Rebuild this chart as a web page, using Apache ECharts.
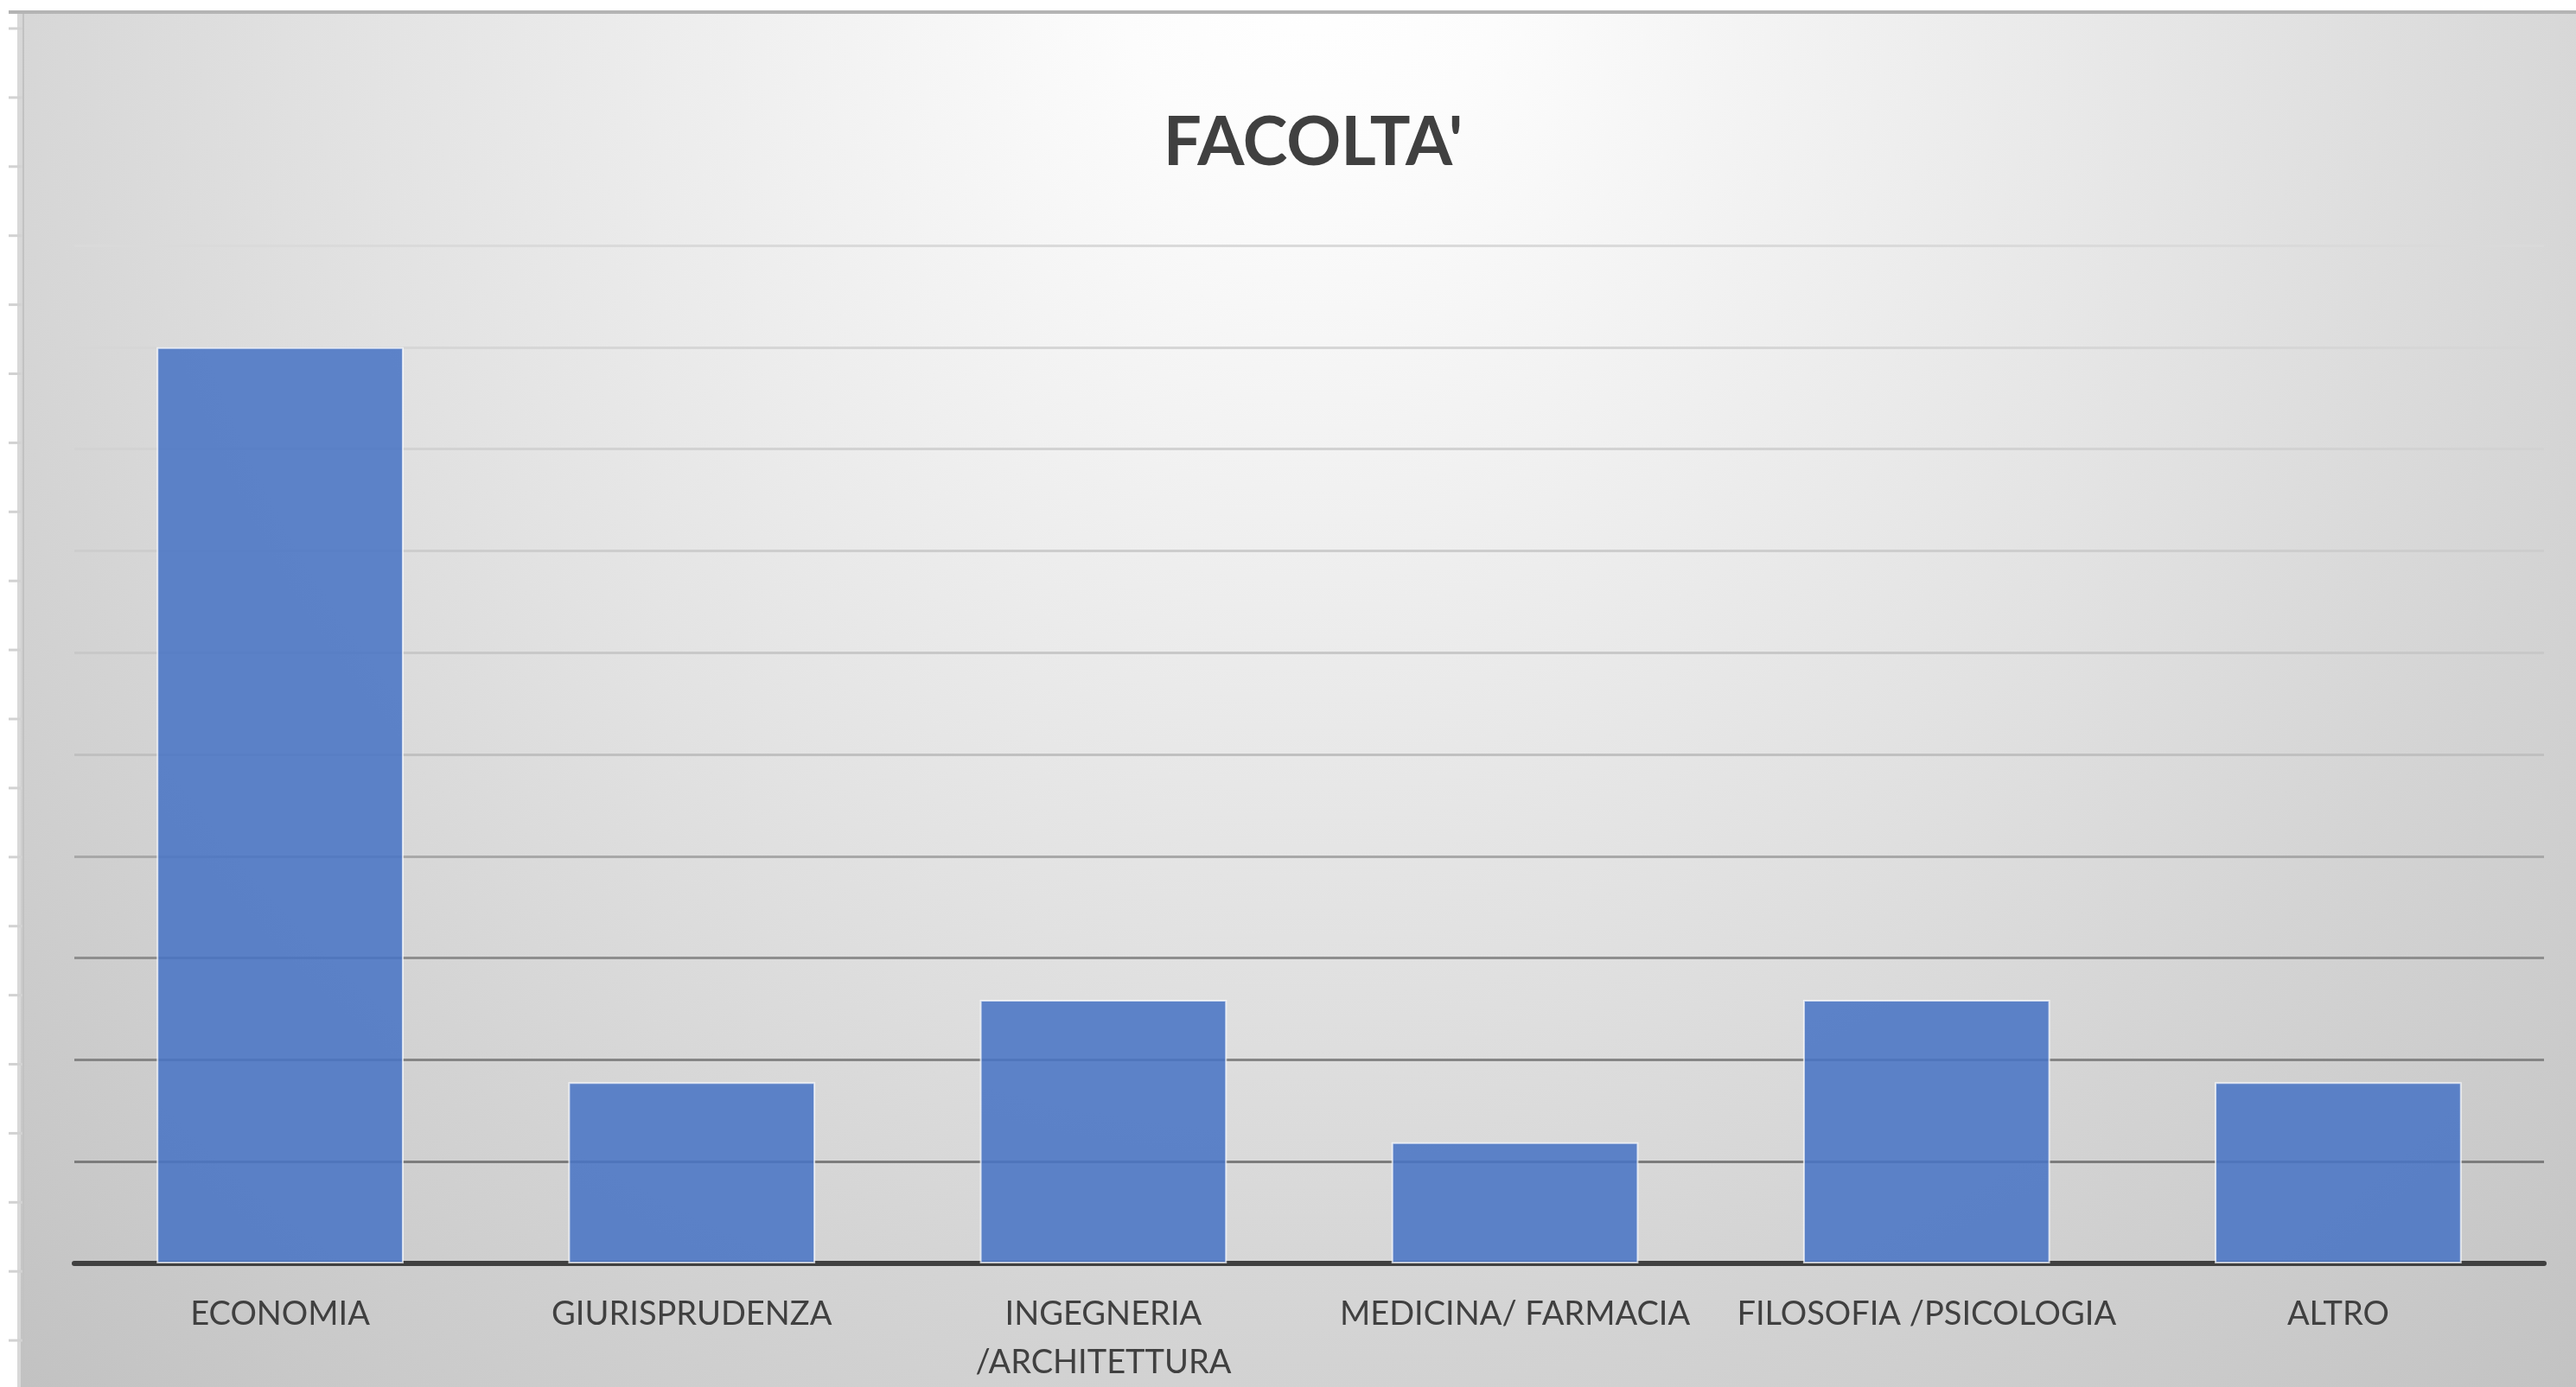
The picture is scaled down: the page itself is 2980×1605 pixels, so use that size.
<!DOCTYPE html>
<html>
<head>
<meta charset="utf-8">
<script src="https://cdn.jsdelivr.net/npm/echarts@6/dist/echarts.min.js"></script>
<style>
  html, body { margin: 0; padding: 0; background: #fff; }
  #chart { width: 2980px; height: 1605px; }
</style>
</head>
<body>
<div id="chart"></div>
<script>
const categories = ['ECONOMIA', 'GIURISPRUDENZA', 'INGEGNERIA\n/ARCHITETTURA', 'MEDICINA/ FARMACIA', 'FILOSOFIA /PSICOLOGIA', 'ALTRO'];
const values = [9, 1.78, 2.59, 1.19, 2.59, 1.78];
const yMin = 0;
const yMax = 10;
const yStep = 1;

// gridline shades, bottom line first (darker near the base)
const gridColors = ['#404040', '#7c7c7c', '#858585', '#8e8e8e', '#a8a8a8', '#c0c0c0', '#c8c8c8', '#cdcdcd', '#d2d2d2', '#d6d6d6', '#dadada'];

const chart = echarts.init(document.getElementById('chart'));

// spreadsheet row marks along the left edge
const rowMarks = [];
for (let y = 33; y < 1605; y += 79.9) {
  rowMarks.push({
    type: 'line', z: 50,
    shape: { x1: 10, y1: y, x2: 26, y2: y },
    style: { stroke: '#d2d2d2', lineWidth: 3 }
  });
}

chart.setOption({
  backgroundColor: {
    type: 'radial', x: 1514, y: -40, r: 2250, global: true,
    colorStops: [
      { offset: 0, color: '#ffffff' },
      { offset: 0.1, color: '#fcfcfc' },
      { offset: 0.3, color: '#efefef' },
      { offset: 0.5, color: '#e2e2e2' },
      { offset: 0.7, color: '#d4d4d4' },
      { offset: 0.88, color: '#c9c9c9' },
      { offset: 1, color: '#c1c1c1' }
    ]
  },
  textStyle: { fontFamily: 'Lato' },
  title: {
    text: "FACOLTA'", left: 1514, textAlign: 'center', top: 122,
    textStyle: { fontSize: 78, fontWeight: 'bold', color: '#404040', fontFamily: 'Lato' }
  },
  graphic: [
    { type: 'rect', z: 40, shape: { x: 0, y: 0, width: 20, height: 1605 }, style: { fill: '#ffffff' } },
    { type: 'rect', z: 40, shape: { x: 0, y: 0, width: 2980, height: 12 }, style: { fill: '#ffffff' } },
    { type: 'line', z: 45, shape: { x1: 22, y1: 13, x2: 22, y2: 1605 }, style: { stroke: '#d8d8d8', lineWidth: 4 } },
    { type: 'line', z: 45, shape: { x1: 27, y1: 13, x2: 27, y2: 1605 }, style: { stroke: '#c2c2c2', lineWidth: 2 } },
    { type: 'line', z: 45, shape: { x1: 10, y1: 14, x2: 2980, y2: 14 }, style: { stroke: '#b4b4b4', lineWidth: 4 } },
    ...rowMarks
  ],
  grid: { left: 86, right: 37, top: 284, bottom: 143 },
  xAxis: {
    type: 'category',
    data: categories,
    axisTick: { show: false },
    axisLine: { lineStyle: { color: '#404040', width: 6 } },
    axisLabel: {
      interval: 0, margin: 31, fontSize: 38, lineHeight: 56,
      color: '#404040', fontFamily: 'Lato', verticalAlign: 'top'
    }
  },
  yAxis: {
    type: 'value', min: yMin, max: yMax, interval: yStep,
    axisLabel: { show: false },
    axisLine: { show: false },
    axisTick: { show: false },
    splitLine: { show: true, showMinLine: true, lineStyle: { color: gridColors, width: 3 } }
  },
  series: [{
    type: 'bar',
    data: values,
    barCategoryGap: '40%',
    itemStyle: {
      color: 'rgba(72,116,196,0.87)',
      borderColor: 'rgba(255,255,255,0.7)',
      borderWidth: 2
    }
  }]
});
</script>
</body>
</html>
